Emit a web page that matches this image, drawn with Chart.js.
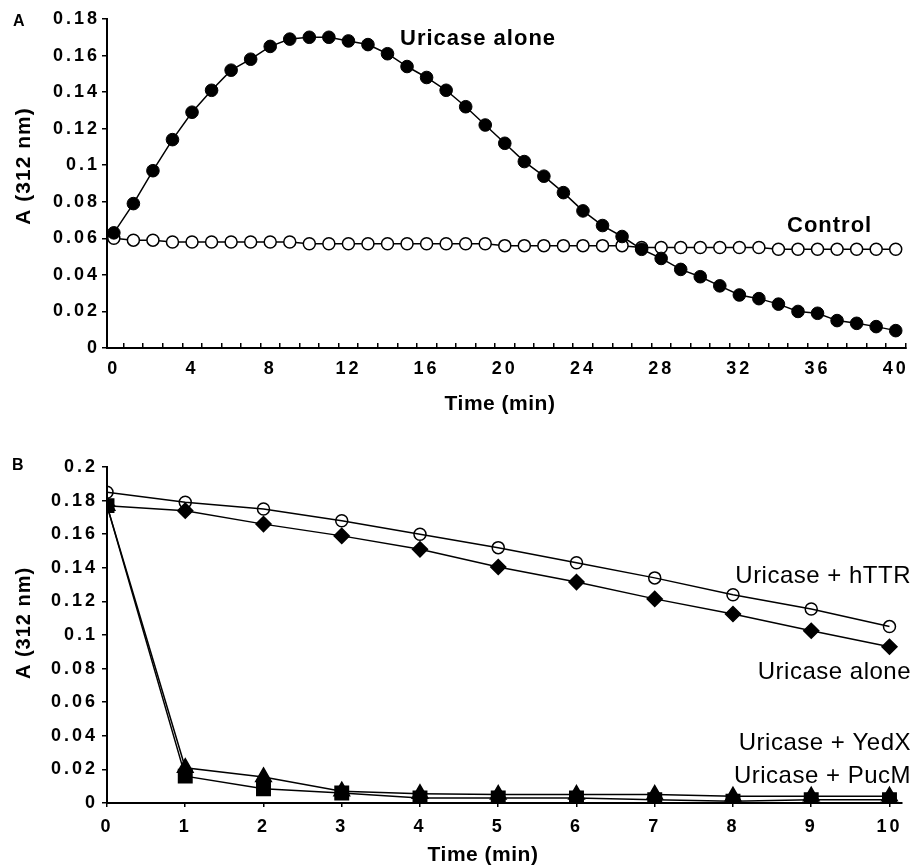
<!DOCTYPE html>
<html>
<head>
<meta charset="utf-8">
<script src="https://cdn.jsdelivr.net/npm/chart.js@4.4.0/dist/chart.umd.min.js"></script>
<style>
  body { margin: 0; background: #fff; }
  canvas { display: block; }
</style>
</head>
<body>
<canvas id="chartA" width="913" height="430"></canvas>
<canvas id="chartB" width="913" height="437"></canvas>
<script>
// ---- panel A data ----
const timeA = [0,1,2,3,4,5,6,7,8,9,10,11,12,13,14,15,16,17,18,19,20,21,22,23,24,25,26,27,28,29,30,31,32,33,34,35,36,37,38,39,40];
const uricaseAloneA = [0.063,0.079,0.097,0.114,0.129,0.141,0.152,0.158,0.165,0.169,0.170,0.170,0.168,0.166,0.161,0.154,0.148,0.141,0.132,0.122,0.112,0.102,0.094,0.085,0.075,0.067,0.061,0.054,0.049,0.043,0.039,0.034,0.029,0.027,0.024,0.020,0.019,0.015,0.0135,0.0117,0.0095];
const controlA = [0.060,0.059,0.059,0.058,0.058,0.058,0.058,0.058,0.058,0.058,0.057,0.057,0.057,0.057,0.057,0.057,0.057,0.057,0.057,0.057,0.056,0.056,0.056,0.056,0.056,0.056,0.056,0.055,0.055,0.055,0.055,0.055,0.055,0.055,0.054,0.054,0.054,0.054,0.054,0.054,0.054];
const xLabelsA = [0,4,8,12,16,20,24,28,32,36,40];
const yTicksA = [0,0.02,0.04,0.06,0.08,0.1,0.12,0.14,0.16,0.18];

// ---- panel B data ----
const timeB = [0,1,2,3,4,5,6,7,8,9,10];
const hTTR = [0.185,0.179,0.175,0.168,0.160,0.152,0.143,0.134,0.124,0.1155,0.105];
const uricaseAloneB = [0.177,0.174,0.166,0.159,0.151,0.1405,0.1315,0.1215,0.1125,0.1025,0.093];
const yedX = [0.177,0.021,0.0155,0.007,0.0055,0.005,0.005,0.005,0.004,0.004,0.004];
const pucM = [0.177,0.016,0.0085,0.006,0.003,0.003,0.003,0.002,0.001,0.002,0.002];
const yTicksB = [0,0.02,0.04,0.06,0.08,0.1,0.12,0.14,0.16,0.18,0.2];

const FAM = "'Liberation Sans', Arial, sans-serif";
const tickFont = { family: FAM, size: 18, weight: 'bold' };

const xy = (xs, ys) => xs.map((x, i) => ({ x: x, y: ys[i] }));

// tick labels get wide spacing, other text is drawn by this plugin
function textPlugin(items) {
  return {
    id: 'texts',
    beforeDraw(chart) { chart.ctx.letterSpacing = '0px'; },
    afterDatasetsDraw(chart) { chart.ctx.letterSpacing = '3px'; },
    afterDraw(chart) {
      const ctx = chart.ctx;
      items.forEach(t => {
        ctx.save();
        ctx.letterSpacing = (t.spacing || 0) + 'px';
        ctx.font = t.font;
        ctx.fillStyle = '#000';
        ctx.textBaseline = 'middle';
        ctx.textAlign = t.align || 'left';
        ctx.translate(t.x, t.y);
        if (t.rotate) ctx.rotate(-Math.PI / 2);
        ctx.fillText(t.text, 0, 0);
        ctx.restore();
      });
    }
  };
}

function yAxis(max, ticks, pad) {
  return {
    min: 0, max: max,
    afterBuildTicks: s => { s.ticks = ticks.map(v => ({ value: v })); },
    afterFit: s => { s.width = 107; s.paddingTop = 0; s.paddingBottom = 0; },
    ticks: { z: 1, padding: pad, color: '#000', font: tickFont,
      callback: v => String(+v.toFixed(2)) },
    grid: { drawOnChartArea: false, tickLength: 5, color: '#000', lineWidth: 1.5 },
    border: { color: '#000', width: 2 }
  };
}

new Chart(document.getElementById('chartA'), {
  type: 'line',
  data: {
    datasets: [
      {
        label: 'Uricase alone',
        data: xy(timeA, uricaseAloneA),
        borderColor: '#000', borderWidth: 1.5,
        pointRadius: 6.3, pointBackgroundColor: '#000', pointBorderColor: '#000', pointBorderWidth: 1
      },
      {
        label: 'Control',
        data: xy(timeA, controlA),
        borderColor: '#000', borderWidth: 1.5,
        pointRadius: 6, pointBackgroundColor: '#fff', pointBorderColor: '#000', pointBorderWidth: 1.5
      }
    ]
  },
  options: {
    responsive: false,
    animation: false,
    layout: { padding: { top: 19, left: 0, right: 3, bottom: 22 } },
    elements: { line: { tension: 0 } },
    scales: {
      x: {
        type: 'linear', min: -0.35, max: 40.5,
        afterBuildTicks: s => { s.ticks = timeA.map(v => ({ value: v })); },
        afterFit: s => { s.height = 60; s.paddingLeft = 0; s.paddingRight = 0; },
        ticks: { z: 1, autoSkip: false, maxRotation: 0, padding: 15, color: '#000', font: tickFont,
          callback: v => xLabelsA.includes(v) ? String(v) : '' },
        grid: { offset: true, drawOnChartArea: false, tickLength: -5, color: '#000', lineWidth: 1.5 },
        border: { color: '#000', width: 2 }
      },
      y: yAxis(0.18, yTicksA, 2)
    },
    plugins: { legend: { display: false }, tooltip: { enabled: false } }
  },
  plugins: [textPlugin([
    { text: 'A', font: 'bold 16px ' + FAM, x: 13, y: 22 },
    { text: 'A (312 nm)', font: 'bold 21px ' + FAM, x: 24, y: 166, rotate: true, align: 'center', spacing: 1 },
    { text: 'Time (min)', font: 'bold 21px ' + FAM, x: 500, y: 404, align: 'center', spacing: 0.5 },
    { text: 'Uricase alone', font: 'bold 22px ' + FAM, x: 400, y: 39, spacing: 1 },
    { text: 'Control', font: 'bold 22px ' + FAM, x: 787, y: 226, spacing: 1 }
  ])]
});

new Chart(document.getElementById('chartB'), {
  type: 'line',
  data: {
    datasets: [
      {
        label: 'Uricase + PucM',
        data: xy(timeB, pucM),
        borderColor: '#000', borderWidth: 1.5,
        pointStyle: 'rect', pointRadius: 9.5, pointBackgroundColor: '#000', pointBorderColor: '#000'
      },
      {
        label: 'Uricase + YedX',
        data: xy(timeB, yedX),
        borderColor: '#000', borderWidth: 1.5,
        pointStyle: 'triangle', pointRadius: 9, pointBackgroundColor: '#000', pointBorderColor: '#000'
      },
      {
        label: 'Uricase alone',
        data: xy(timeB, uricaseAloneB),
        borderColor: '#000', borderWidth: 1.5,
        pointStyle: 'rectRot', pointRadius: 7.5, pointBackgroundColor: '#000', pointBorderColor: '#000'
      },
      {
        label: 'Uricase + hTTR',
        data: xy(timeB, hTTR),
        borderColor: '#000', borderWidth: 1.5,
        pointRadius: 6, pointBackgroundColor: 'rgba(0,0,0,0)', pointBorderColor: '#000', pointBorderWidth: 1.5
      }
    ]
  },
  options: {
    responsive: false,
    animation: false,
    layout: { padding: { top: 37, left: 0, right: 3, bottom: 2 } },
    elements: { line: { tension: 0 } },
    scales: {
      x: {
        type: 'linear', min: 0, max: 10.16,
        afterBuildTicks: s => { s.ticks = timeB.map(v => ({ value: v })); },
        afterFit: s => { s.height = 62; s.paddingLeft = 0; s.paddingRight = 0; },
        ticks: { z: 1, autoSkip: false, maxRotation: 0, padding: 9, color: '#000', font: tickFont,
          callback: v => String(v) },
        grid: { drawOnChartArea: false, tickLength: 4, color: '#000', lineWidth: 1.5 },
        border: { color: '#000', width: 2 }
      },
      y: yAxis(0.2, yTicksB, 4)
    },
    plugins: { legend: { display: false }, tooltip: { enabled: false } }
  },
  plugins: [textPlugin([
    { text: 'B', font: 'bold 16px ' + FAM, x: 12, y: 36 },
    { text: 'A (312 nm)', font: 'bold 20px ' + FAM, x: 24, y: 193, rotate: true, align: 'center', spacing: 1 },
    { text: 'Time (min)', font: 'bold 21px ' + FAM, x: 483, y: 425, align: 'center', spacing: 0.5 },
    { text: 'Uricase + hTTR', font: '24px ' + FAM, x: 911, y: 146, align: 'right', spacing: 0.5 },
    { text: 'Uricase alone', font: '24px ' + FAM, x: 911, y: 242, align: 'right', spacing: 0.5 },
    { text: 'Uricase + YedX', font: '24px ' + FAM, x: 911, y: 313, align: 'right', spacing: 0.5 },
    { text: 'Uricase + PucM', font: '24px ' + FAM, x: 911, y: 346, align: 'right', spacing: 0.5 }
  ])]
});
</script>
</body>
</html>
